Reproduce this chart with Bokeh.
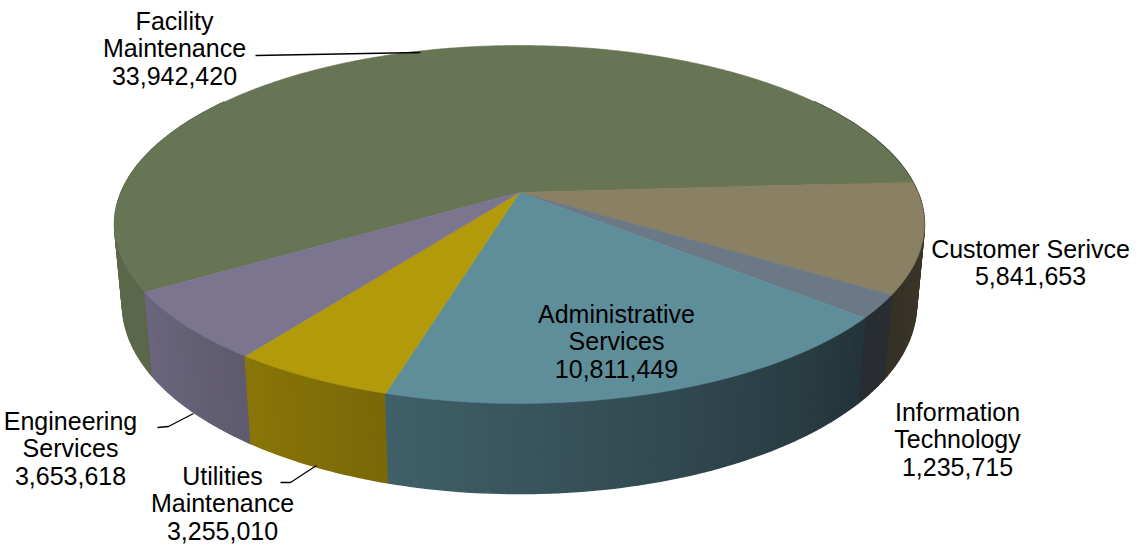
import math
from bokeh.plotting import figure
from bokeh.models import Range1d
from bokeh.core.properties import value
from bokeh.embed import file_html
from bokeh.resources import INLINE

# ---------------- data ----------------
categories = ["Facility Maintenance", "Customer Serivce", "Information Technology",
              "Administrative Services", "Utilities Maintenance", "Engineering Services"]
values = [33942420, 5841653, 1235715, 10811449, 3255010, 3653618]
label_lines = [["Facility", "Maintenance"], ["Customer Serivce"], ["Information", "Technology"],
               ["Administrative", "Services"], ["Utilities", "Maintenance"], ["Engineering", "Services"]]

# ---------------- style / layout ----------------
top_colors = ["#687555", "#8a8063", "#6b7885", "#5f8e9b", "#b39a0b", "#7b7590"]
label_pos = [(174, 20), (1030, 248), (957, 411), (616, 313), (222, 475), (70, 420)]
leaders = [([255, 420], [55, 52]), None, None, None,
           ([280, 290, 316], [482, 482, 465]), ([157, 168, 193], [427, 426, 413])]
LINE_H = 27.5
FONT = "Liberation Sans"
FONT_SIZE = "25px"

W, H = 1147, 544
# perspective camera parameters (pixel space)
CX, CY = 519.0, 192.0
S_E = 0.4349
C_E = math.sqrt(1 - S_E ** 2)
DIST = 5.043
FOC = 2009.0
THICK = 0.2224
START = 238.5  # angle of first slice, clockwise from back


def proj(theta, y):
    t = math.radians(theta)
    u = math.sin(t)
    v = -math.cos(t)
    dep = DIST - (y * S_E + v * C_E)
    xs = CX + FOC * u / dep
    ys = CY - FOC * (y * C_E - v * S_E) / dep
    return xs, ys


def shade(th):
    th = th % 360
    if th >= 130:
        return 0.37 + 0.51 * min((th - 130) / 110.0, 1.0)
    return 0.37 + (130 - th) * 0.002


def scale_color(hexc, f):
    r = int(hexc[1:3], 16); g = int(hexc[3:5], 16); b = int(hexc[5:7], 16)
    return "#%02x%02x%02x" % (min(255, round(r * f)), min(255, round(g * f)), min(255, round(b * f)))


total = float(sum(values))
bounds = []
a = START
for v in values:
    b = a + v / total * 360.0
    bounds.append((a, b))
    a = b

p = figure(width=W, height=H, output_backend="svg", toolbar_location=None,
           x_range=Range1d(0, W), y_range=Range1d(H, 0),
           x_axis_type=None, y_axis_type=None, min_border=0)
p.outline_line_color = None
p.xgrid.visible = False
p.ygrid.visible = False
p.background_fill_color = "white"
p.border_fill_color = "white"

# ---- walls (outer side) ----
segs = []
for i, (a0, a1) in enumerate(bounds):
    n = max(2, int(math.ceil((a1 - a0) / 1.0)))
    for k in range(n):
        t0 = a0 + (a1 - a0) * k / n
        t1 = a0 + (a1 - a0) * (k + 1) / n
        tm = ((t0 + t1) / 2) % 360
        if 55 <= tm <= 305:
            p0 = proj(t0, 0); p1 = proj(t1, 0)
            q1 = proj(t1, -THICK); q0 = proj(t0, -THICK)
            col = scale_color(top_colors[i], shade(tm))
            vdepth = -math.cos(math.radians(tm))
            segs.append((vdepth, [p0[0], p1[0], q1[0], q0[0]], [p0[1], p1[1], q1[1], q0[1]], col))
segs.sort(key=lambda s: s[0])
p.patches([s[1] for s in segs], [s[2] for s in segs], fill_color=[s[3] for s in segs],
          line_color=[s[3] for s in segs], line_width=1.6)

# ---- top faces ----
xs_all, ys_all = [], []
for i, (a0, a1) in enumerate(bounds):
    n = max(4, int(math.ceil((a1 - a0) / 0.5)))
    xs = [CX]; ys = [CY]
    for k in range(n + 1):
        t = a0 + (a1 - a0) * k / n
        x, y = proj(t, 0)
        xs.append(x); ys.append(y)
    xs_all.append(xs); ys_all.append(ys)
p.patches(xs_all, ys_all, fill_color=top_colors, line_color=top_colors, line_width=0.6)

# ---- leader lines ----
for ld in leaders:
    if ld is not None:
        p.line(ld[0], ld[1], line_color="black", line_width=1.3)

# ---- labels ----
tx, ty, tt = [], [], []
for i, lines in enumerate(label_lines):
    allines = lines + [f"{values[i]:,}"]
    x0, y0 = label_pos[i]
    for j, s in enumerate(allines):
        tx.append(x0); ty.append(y0 + j * LINE_H); tt.append(s)
p.text(tx, ty, text=tt, text_font=value(FONT), text_font_size=FONT_SIZE,
       text_align="center", text_baseline="middle", text_color="black")

open("out.html", "w").write(file_html(p, INLINE))
